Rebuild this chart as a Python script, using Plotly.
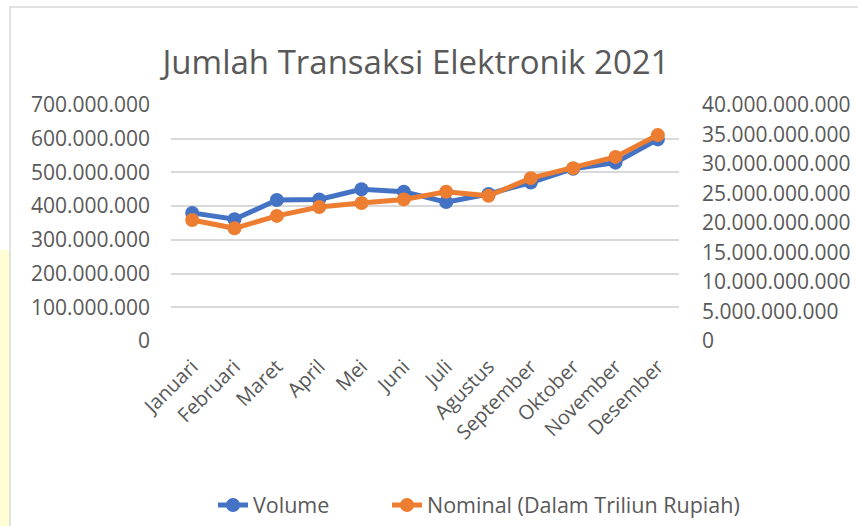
import plotly.graph_objects as go

months = ["Januari", "Februari", "Maret", "April", "Mei", "Juni", "Juli",
          "Agustus", "September", "Oktober", "November", "Desember"]
volume = [380e6, 361e6, 418e6, 420e6, 450e6, 443e6, 412e6, 436e6, 470e6, 511e6, 529e6, 598e6]
nominal = [20.5e9, 19.1e9, 21.2e9, 22.7e9, 23.4e9, 24.0e9, 25.3e9, 24.6e9, 27.6e9, 29.3e9, 31.2e9, 34.9e9]

W, H = 858, 526
L, R, T, B = 171, 179, 105, 185
pw, ph = W - L - R, H - T - B

def px(x):
    return (x - L) / pw

def py(y):
    return (H - B - y) / ph

BLUE = "#4472C4"
ORANGE = "#ED7D31"
FONT = "Open Sans"
GREY = "#595959"

fig = go.Figure()
fig.add_trace(go.Scatter(x=months, y=volume, name="Volume", mode="lines+markers",
                         line=dict(color=BLUE, width=5), marker=dict(size=14, color=BLUE),
                         legend="legend"))
fig.add_trace(go.Scatter(x=months, y=nominal, name="Nominal (Dalam Triliun Rupiah)",
                         mode="lines+markers", yaxis="y2",
                         line=dict(color=ORANGE, width=5), marker=dict(size=14, color=ORANGE),
                         legend="legend2"))

leg_common = dict(orientation="h", xref="container", yref="container", xanchor="left",
                  y=1 - 505 / H, yanchor="middle", font=dict(size=21.5, color=GREY),
                  itemwidth=30, bgcolor="rgba(0,0,0,0)")

fig.update_layout(
    width=W, height=H,
    margin=dict(l=L, r=R, t=T, b=B, autoexpand=False),
    paper_bgcolor="white", plot_bgcolor="white",
    separators=",.",
    font=dict(family=FONT, color=GREY, size=17),
    title=dict(text="Jumlah Transaksi Elektronik 2021", x=416 / W, xanchor="center",
               y=1 - 62 / H, yanchor="middle", font=dict(size=33, color=GREY, family=FONT)),
    xaxis=dict(type="category", tickangle=-45, showgrid=False, ticks="",
               showline=False, tickfont=dict(size=20), range=[-0.5, 11.5],
               ticklabelstandoff=9),
    yaxis=dict(range=[0, 700e6], dtick=100e6, tickformat=",", gridcolor="#d9d9d9",
               gridwidth=1.5, zeroline=False, ticks="", ticklabelstandoff=20,
               tickfont=dict(size=21)),
    yaxis2=dict(range=[0, 40e9], dtick=5e9, tickformat=",", overlaying="y", side="right",
                showgrid=False, zeroline=False, ticks="", ticklabelstandoff=22,
                tickfont=dict(size=21)),
    legend=dict(x=(263 - 50) / W, **leg_common),
    legend2=dict(x=(437 - 50) / W, **leg_common),
    showlegend=True,
    shapes=[
        dict(type="rect", xref="paper", yref="paper", x0=px(0), x1=px(10), y0=py(250), y1=py(530),
             fillcolor="#FFFDD6", line=dict(width=0), layer="below"),
        dict(type="rect", xref="paper", yref="paper", x0=px(10), x1=px(870), y0=py(7), y1=py(540),
             fillcolor="rgba(0,0,0,0)", line=dict(color="#d9d9d9", width=1.5), layer="below"),
    ],
)

fig.write_html("out.html", config={"displayModeBar": False},
               post_script="document.body.style.margin='0';document.body.style.overflow='hidden';")
